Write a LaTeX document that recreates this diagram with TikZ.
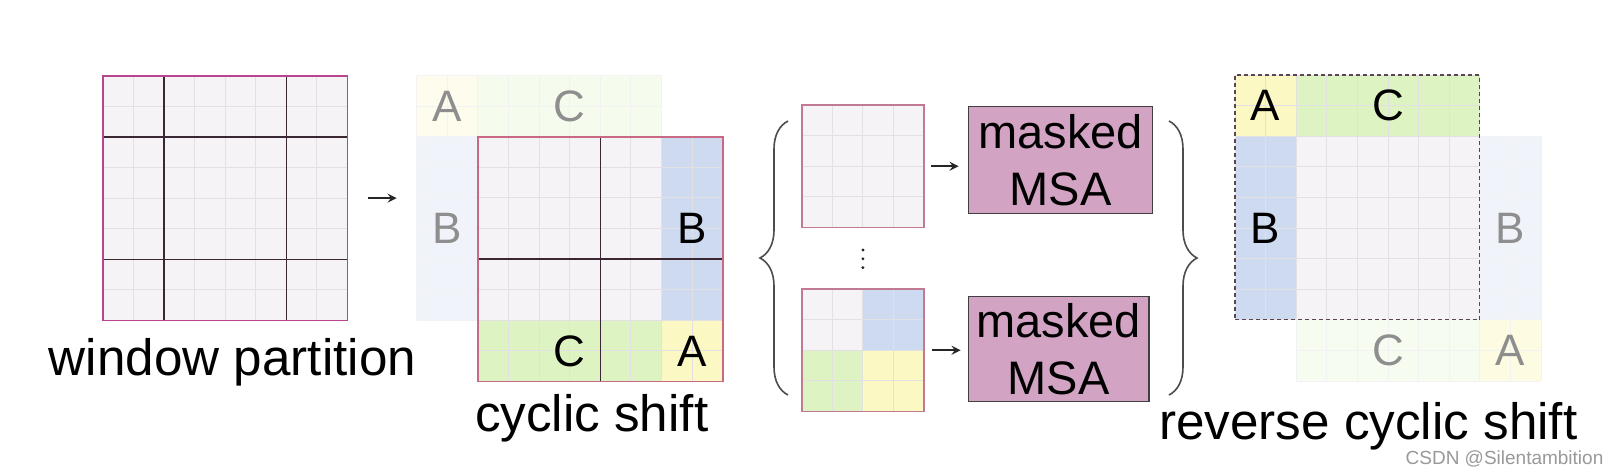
\documentclass[tikz,border=0pt]{standalone}
\usepackage{fontspec}
\setmainfont{Liberation Sans}
\usetikzlibrary{positioning, arrows, decorations.pathreplacing}
\definecolor{cellbg}{HTML}{F6F3F7}
\definecolor{yel}{HTML}{FBF8C4}
\definecolor{grn}{HTML}{DDF4C2}
\definecolor{blu}{HTML}{CDDAF0}
\definecolor{msac}{HTML}{D3A3C4}
\definecolor{gridc}{HTML}{E3E0E4}
\definecolor{wpborder}{HTML}{B8468E}
\definecolor{partc}{HTML}{3B2733}
\definecolor{shiftborder}{HTML}{C86A86}
\definecolor{winborder}{HTML}{C27A92}
\definecolor{dashc}{HTML}{5A4650}
\definecolor{ghosttext}{HTML}{8E8E8E}
\newcommand{\cellw}{30.6}
% thin cell lines: [style]{x0}{y0}{cols}{rows}
\newcommand{\finegrid}[5][fineline]{%
  \foreach \k in {0,...,#4}
    \draw[#1] ({#2+\k*\cellw},#3) -- ++(0,{#5*\cellw});
  \foreach \k in {0,...,#5}
    \draw[#1] (#2,{#3+\k*\cellw}) -- ++({#4*\cellw},0);
}
\tikzset{
	>=stealth, % arrow heads
	fineline/.style={draw=gridc, line width=0.5pt}, % cell lines
	ghostline/.style={draw=gridc!45, line width=0.5pt}, % cell lines of the shifted-out parts
	partline/.style={draw=partc, line width=0.8pt}, % window borders inside a map
	wpbox/.style={draw=wpborder, line width=0.9pt, minimum size=122.4pt, inner sep=0pt}, % left map
	shiftbox/.style={draw=shiftborder, line width=0.8pt, minimum size=122.4pt, inner sep=0pt}, % shifted map
	rcbox/.style={draw=dashc, dash pattern=on 2pt off 1.5pt, line width=0.6pt, minimum size=122.4pt, inner sep=0pt}, % reversed map
	winbox/.style={draw=winborder, line width=0.8pt, minimum size=61.2pt, inner sep=0pt}, % one window
	msabox/.style={draw=black!75, fill=msac, line width=0.7pt, align=center, inner sep=0pt,
		font=\fontsize{23.5}{28.5}\selectfont}, % attention box
	lbl/.style={font=\fontsize{22}{26}\selectfont, inner sep=0pt}, % region letter
	ghostlbl/.style={lbl, text=ghosttext}, % letter of a shifted-out part
	caption/.style={font=\fontsize{25.6}{30}\selectfont, anchor=base, inner sep=0pt}, % text under a map
	wmark/.style={font=\fontsize{9.5}{11}\selectfont, text=black!40, anchor=base, inner sep=0pt},
	arr/.style={->, line width=1pt, draw=black!85},
	brc/.style={decorate, decoration={brace, amplitude=14pt}, line width=0.8pt, draw=black!70},
}
\begin{document}
\begin{tikzpicture}[x=0.5pt, y=-0.5pt]
\useasboundingbox (0,0) rectangle (1618,472);
\fill[white] (0,0) rectangle (1618,472);

% window partition
\fill[cellbg] (102.7,75.7) rectangle (347.5,320.5);
\finegrid{102.7}{75.7}{8}{8}
\draw[partline] (163.9,75.7) -- (163.9,320.5);
\draw[partline] (286.3,75.7) -- (286.3,320.5);
\draw[partline] (102.7,136.9) -- (347.5,136.9);
\draw[partline] (102.7,259.3) -- (347.5,259.3);
\node[wpbox] (wp) at (225.1,198.1) {};
\node[caption] (capwp) at (232.5,375) {window partition};

% cyclic shift
\fill[yel!30] (416.7,75.5) rectangle ++(61.2,61.2);
\fill[grn!30] (477.9,75.5) rectangle ++(183.6,61.2);
\fill[blu!30] (416.7,136.7) rectangle ++(61.2,183.6);
\finegrid[ghostline]{416.7}{75.5}{8}{2}
\finegrid[ghostline]{416.7}{136.7}{2}{6}
\fill[cellbg] (477.9,136.7) rectangle (722.7,381.5);
\fill[blu] (661.5,136.7) rectangle (722.7,320.3);
\fill[grn] (477.9,320.3) rectangle (661.5,381.5);
\fill[yel] (661.5,320.3) rectangle (722.7,381.5);
\finegrid{477.9}{136.7}{8}{8}
\draw[partline] (600.3,136.7) -- (600.3,381.5);
\draw[partline] (477.9,259.1) -- (722.7,259.1);
\node[shiftbox] (cs) at (600.3,259.1) {};
\node[ghostlbl] (gA) at (447.3,106.1) {A};
\node[ghostlbl] (gC) at (569.7,106.1) {C};
\node[ghostlbl] (gB) at (447.3,228.5) {B};
\node[lbl] (sB) at (692.1,228.5) {B};
\node[lbl] (sC) at (569.7,350.9) {C};
\node[lbl] (sA) at (692.1,350.9) {A};
\node[caption] (capcs) at (591.7,431.7) {cyclic shift};

\coordinate (gl) at (416.7,198.1);
\draw[arr, shorten <=10pt, shorten >=10pt] (wp.east) -- (gl);

% windows and masked MSA
\draw[brc] (788,395) coordinate (bl1) -- (788,121) coordinate (bl2);
\fill[cellbg] (801.7,105) rectangle ++(122.4,122.4);
\finegrid{801.7}{105}{4}{4}
\node[winbox] (w1) at (862.9,166.2) {};
\foreach \y in {250,258.8,267.6}
  \fill[black!85] (862.9,\y) circle[radius=0.8pt];
\fill[cellbg] (801.7,289) rectangle ++(61.2,61.2);
\fill[blu] (862.9,289) rectangle ++(61.2,61.2);
\fill[grn] (801.7,350.2) rectangle ++(61.2,61.2);
\fill[yel] (862.9,350.2) rectangle ++(61.2,61.2);
\finegrid{801.7}{289}{4}{4}
\node[winbox] (w2) at (862.9,350.2) {};
\node[msabox, minimum width=92.2pt, minimum height=53.3pt] (m1) at (1060.5,160) {masked\\MSA};
\node[msabox, minimum width=90.4pt, minimum height=52.5pt] (m2) at (1058.7,349.2) {masked\\MSA};
\draw[arr, shorten <=3pt, shorten >=4.5pt] (w1.east) -- (w1.east -| m1.west);
\draw[arr, shorten <=3.5pt, shorten >=3.5pt] (w2.east) -- (w2.east -| m2.west);
\draw[brc] (1169,121) coordinate (br1) -- (1169,395) coordinate (br2);

% reverse cyclic shift
\fill[cellbg] (1235,75) rectangle (1479.8,319.8);
\fill[yel] (1235,75) rectangle ++(61.2,61.2);
\fill[grn] (1296.2,75) rectangle (1479.8,136.2);
\fill[blu] (1235,136.2) rectangle (1296.2,319.8);
\finegrid{1235}{75}{8}{8}
\fill[blu!30] (1479.8,136.2) rectangle (1541,319.8);
\fill[grn!25] (1296.2,319.8) rectangle (1479.8,381);
\fill[yel!50] (1479.8,319.8) rectangle (1541,381);
\finegrid[ghostline]{1479.8}{136.2}{2}{6}
\finegrid[ghostline]{1296.2}{319.8}{8}{2}
\node[rcbox] (rc) at (1357.4,197.4) {};
\node[lbl] (rA) at (1265.6,105.6) {A};
\node[lbl] (rC) at (1388.0,105.6) {C};
\node[lbl] (rB) at (1265.6,228.0) {B};
\node[ghostlbl] (hB) at (1510.4,228.0) {B};
\node[ghostlbl] (hC) at (1388.0,350.4) {C};
\node[ghostlbl] (hA) at (1510.4,350.4) {A};
\node[caption] (caprc) at (1368.3,439) {reverse cyclic shift};
\node[wmark] (csdn) at (1504.5,464.5) {CSDN @Silentambition};
\end{tikzpicture}
\end{document}
